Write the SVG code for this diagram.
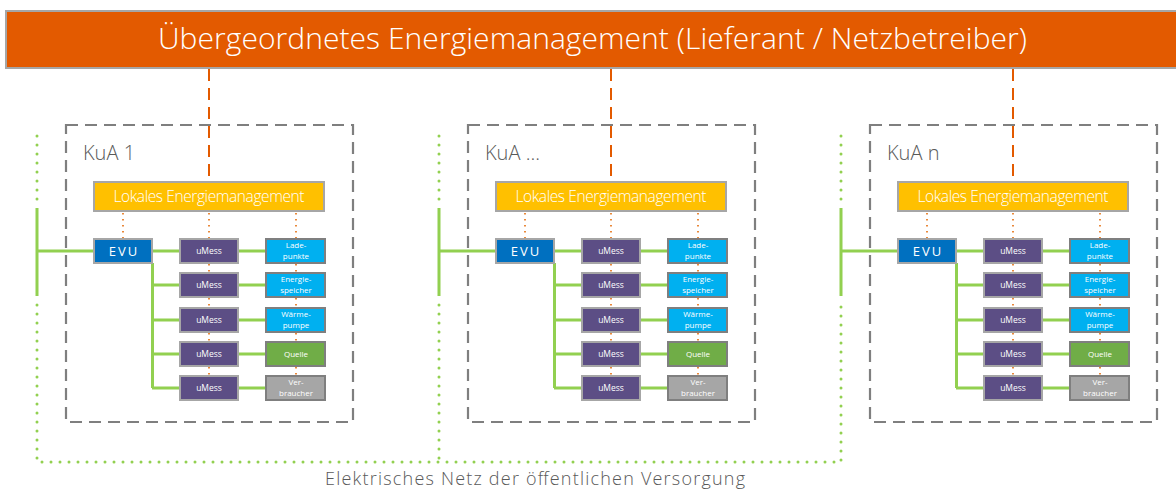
<svg xmlns="http://www.w3.org/2000/svg" width="1176" height="491" viewBox="0 0 1176 491">
<style>
.frame{fill:none;stroke:#7F7F7F;stroke-width:2.2;stroke-dasharray:12 7}
.lbl{font-family:"Open Sans","Liberation Sans",sans-serif;font-weight:300;fill:#595959}
.wt{font-family:"Open Sans","Liberation Sans",sans-serif;fill:#FFFFFF;text-anchor:middle}
.lt{font-weight:300}
.lem{fill:#FFC000;stroke:#A6A6A6;stroke-width:2}
.evu{fill:#0070C0;stroke:#A6A6A6;stroke-width:2}
.um{fill:#5C4E85;stroke:#A6A6A6;stroke-width:2}
.blue{fill:#00B0F0;stroke:#7F7F7F;stroke-width:2}
.green{fill:#70AD47;stroke:#7F7F7F;stroke-width:2}
.grey{fill:#A6A6A6;stroke:#7F7F7F;stroke-width:2}
.gs{fill:none;stroke:#92D050;stroke-width:3}
.gd{fill:none;stroke:#92D050;stroke-width:3;stroke-linecap:round;stroke-dasharray:0 9}
.od{fill:none;stroke:#E35A00;stroke-width:2;stroke-dasharray:12 7}
.odot{fill:none;stroke:#E46C0A;stroke-width:1.6;stroke-dasharray:1.6 4.4}
.s9{font-size:8.5px}
.s8{font-size:8px}
.lemt{font-size:15.5px}
</style>
<rect width="1176" height="491" fill="#FFFFFF"/>

<g id="frames">
  <rect class="frame" x="66" y="125" width="287" height="297"/>
  <rect class="frame" x="468" y="125" width="287" height="297"/>
  <rect class="frame" x="870" y="125" width="287" height="297"/>
</g>

<g id="connectors">
  <path class="gd" d="M37,136 V200 M439,136 V200 M841,136 V200"/>
  <path class="gd" d="M37,305 V462 H841 V305 M439,305 V462"/>
  <g id="conn-kua1">
    <path class="od" d="M209,69 V182"/>
    <path class="gs" d="M37,208 V296 M37,251 H94 M152,251 H180 M152.5,263 V388 M152,285 H180 M152,320 H180 M152,354 H180 M152,388 H180 M238,251 H266 M238,285 H266 M238,320 H266 M238,354 H266 M238,388 H266"/>
    <path class="odot" d="M123,213 V239 M209,213 V239 M296,213 V239 M209,264 V273 M209,298 V308 M209,333 V342 M209,367 V376 M296,264 V273 M296,298 V308 M296,333 V342 M296,367 V376"/>
  </g>
  <g id="conn-kua2" transform="translate(402,0)">
    <path class="od" d="M209,69 V182"/>
    <path class="gs" d="M37,208 V296 M37,251 H94 M152,251 H180 M152.5,263 V388 M152,285 H180 M152,320 H180 M152,354 H180 M152,388 H180 M238,251 H266 M238,285 H266 M238,320 H266 M238,354 H266 M238,388 H266"/>
    <path class="odot" d="M123,213 V239 M209,213 V239 M296,213 V239 M209,264 V273 M209,298 V308 M209,333 V342 M209,367 V376 M296,264 V273 M296,298 V308 M296,333 V342 M296,367 V376"/>
  </g>
  <g id="conn-kuan" transform="translate(804,0)">
    <path class="od" d="M209,69 V182"/>
    <path class="gs" d="M37,208 V296 M37,251 H94 M152,251 H180 M152.5,263 V388 M152,285 H180 M152,320 H180 M152,354 H180 M152,388 H180 M238,251 H266 M238,285 H266 M238,320 H266 M238,354 H266 M238,388 H266"/>
    <path class="odot" d="M123,213 V239 M209,213 V239 M296,213 V239 M209,264 V273 M209,298 V308 M209,333 V342 M209,367 V376 M296,264 V273 M296,298 V308 M296,333 V342 M296,367 V376"/>
  </g>
</g>

<g id="banner">
  <rect x="6" y="11" width="1180" height="57" fill="#E35A00" stroke="#A6A6A6" stroke-width="2"/>
  <text class="wt lt" x="592.5" y="49" font-size="30" textLength="869" lengthAdjust="spacing">Übergeordnetes Energiemanagement (Lieferant / Netzbetreiber)</text>
</g>

<g id="kua1">
  <text class="lbl" x="83" y="160" font-size="20">KuA 1</text>
  <g id="kua1-lem"><rect class="lem" x="94" y="182" width="230" height="29"/><text class="wt lt lemt" x="209" y="202" textLength="191" lengthAdjust="spacing">Lokales Energiemanagement</text></g>
  <g id="kua1-evu"><rect class="evu" x="94" y="239" width="58" height="24"/><text class="wt" x="124" y="256" font-size="13" letter-spacing="2">EVU</text></g>
  <g id="kua1-um1"><rect class="um" x="180" y="239" width="58" height="24"/><text class="wt s9" x="209" y="254">uMess</text></g>
  <g id="kua1-um2"><rect class="um" x="180" y="273" width="58" height="24"/><text class="wt s9" x="209" y="288">uMess</text></g>
  <g id="kua1-um3"><rect class="um" x="180" y="308" width="58" height="24"/><text class="wt s9" x="209" y="323">uMess</text></g>
  <g id="kua1-um4"><rect class="um" x="180" y="342" width="58" height="24"/><text class="wt s9" x="209" y="357">uMess</text></g>
  <g id="kua1-um5"><rect class="um" x="180" y="376" width="58" height="24"/><text class="wt s9" x="209" y="391">uMess</text></g>
  <g id="kua1-lp"><rect class="blue" x="266" y="239" width="59" height="24"/><text class="wt s8" x="296" y="248">Lade-</text><text class="wt s8" x="296" y="259">punkte</text></g>
  <g id="kua1-es"><rect class="blue" x="266" y="273" width="59" height="24"/><text class="wt s8" x="296" y="282">Energie-</text><text class="wt s8" x="296" y="293">speicher</text></g>
  <g id="kua1-wp"><rect class="blue" x="266" y="308" width="59" height="24"/><text class="wt s8" x="296" y="317">Wärme-</text><text class="wt s8" x="296" y="328">pumpe</text></g>
  <g id="kua1-q"><rect class="green" x="266" y="342" width="59" height="24"/><text class="wt s8" x="296" y="357">Quelle</text></g>
  <g id="kua1-vb"><rect class="grey" x="266" y="376" width="59" height="24"/><text class="wt s8" x="296" y="385">Ver-</text><text class="wt s8" x="296" y="396">braucher</text></g>
</g>

<g id="kua2" transform="translate(402,0)">
  <text class="lbl" x="83" y="160" font-size="20">KuA ...</text>
  <g id="kua2-lem"><rect class="lem" x="94" y="182" width="230" height="29"/><text class="wt lt lemt" x="209" y="202" textLength="191" lengthAdjust="spacing">Lokales Energiemanagement</text></g>
  <g id="kua2-evu"><rect class="evu" x="94" y="239" width="58" height="24"/><text class="wt" x="124" y="256" font-size="13" letter-spacing="2">EVU</text></g>
  <g id="kua2-um1"><rect class="um" x="180" y="239" width="58" height="24"/><text class="wt s9" x="209" y="254">uMess</text></g>
  <g id="kua2-um2"><rect class="um" x="180" y="273" width="58" height="24"/><text class="wt s9" x="209" y="288">uMess</text></g>
  <g id="kua2-um3"><rect class="um" x="180" y="308" width="58" height="24"/><text class="wt s9" x="209" y="323">uMess</text></g>
  <g id="kua2-um4"><rect class="um" x="180" y="342" width="58" height="24"/><text class="wt s9" x="209" y="357">uMess</text></g>
  <g id="kua2-um5"><rect class="um" x="180" y="376" width="58" height="24"/><text class="wt s9" x="209" y="391">uMess</text></g>
  <g id="kua2-lp"><rect class="blue" x="266" y="239" width="59" height="24"/><text class="wt s8" x="296" y="248">Lade-</text><text class="wt s8" x="296" y="259">punkte</text></g>
  <g id="kua2-es"><rect class="blue" x="266" y="273" width="59" height="24"/><text class="wt s8" x="296" y="282">Energie-</text><text class="wt s8" x="296" y="293">speicher</text></g>
  <g id="kua2-wp"><rect class="blue" x="266" y="308" width="59" height="24"/><text class="wt s8" x="296" y="317">Wärme-</text><text class="wt s8" x="296" y="328">pumpe</text></g>
  <g id="kua2-q"><rect class="green" x="266" y="342" width="59" height="24"/><text class="wt s8" x="296" y="357">Quelle</text></g>
  <g id="kua2-vb"><rect class="grey" x="266" y="376" width="59" height="24"/><text class="wt s8" x="296" y="385">Ver-</text><text class="wt s8" x="296" y="396">braucher</text></g>
</g>

<g id="kuan" transform="translate(804,0)">
  <text class="lbl" x="83" y="160" font-size="20">KuA n</text>
  <g id="kuan-lem"><rect class="lem" x="94" y="182" width="230" height="29"/><text class="wt lt lemt" x="209" y="202" textLength="191" lengthAdjust="spacing">Lokales Energiemanagement</text></g>
  <g id="kuan-evu"><rect class="evu" x="94" y="239" width="58" height="24"/><text class="wt" x="124" y="256" font-size="13" letter-spacing="2">EVU</text></g>
  <g id="kuan-um1"><rect class="um" x="180" y="239" width="58" height="24"/><text class="wt s9" x="209" y="254">uMess</text></g>
  <g id="kuan-um2"><rect class="um" x="180" y="273" width="58" height="24"/><text class="wt s9" x="209" y="288">uMess</text></g>
  <g id="kuan-um3"><rect class="um" x="180" y="308" width="58" height="24"/><text class="wt s9" x="209" y="323">uMess</text></g>
  <g id="kuan-um4"><rect class="um" x="180" y="342" width="58" height="24"/><text class="wt s9" x="209" y="357">uMess</text></g>
  <g id="kuan-um5"><rect class="um" x="180" y="376" width="58" height="24"/><text class="wt s9" x="209" y="391">uMess</text></g>
  <g id="kuan-lp"><rect class="blue" x="266" y="239" width="59" height="24"/><text class="wt s8" x="296" y="248">Lade-</text><text class="wt s8" x="296" y="259">punkte</text></g>
  <g id="kuan-es"><rect class="blue" x="266" y="273" width="59" height="24"/><text class="wt s8" x="296" y="282">Energie-</text><text class="wt s8" x="296" y="293">speicher</text></g>
  <g id="kuan-wp"><rect class="blue" x="266" y="308" width="59" height="24"/><text class="wt s8" x="296" y="317">Wärme-</text><text class="wt s8" x="296" y="328">pumpe</text></g>
  <g id="kuan-q"><rect class="green" x="266" y="342" width="59" height="24"/><text class="wt s8" x="296" y="357">Quelle</text></g>
  <g id="kuan-vb"><rect class="grey" x="266" y="376" width="59" height="24"/><text class="wt s8" x="296" y="385">Ver-</text><text class="wt s8" x="296" y="396">braucher</text></g>
</g>

<g id="grid-label">
  <text class="lbl" x="535" y="485" font-size="18" text-anchor="middle" textLength="420" lengthAdjust="spacing">Elektrisches Netz der öffentlichen Versorgung</text>
</g>
</svg>
